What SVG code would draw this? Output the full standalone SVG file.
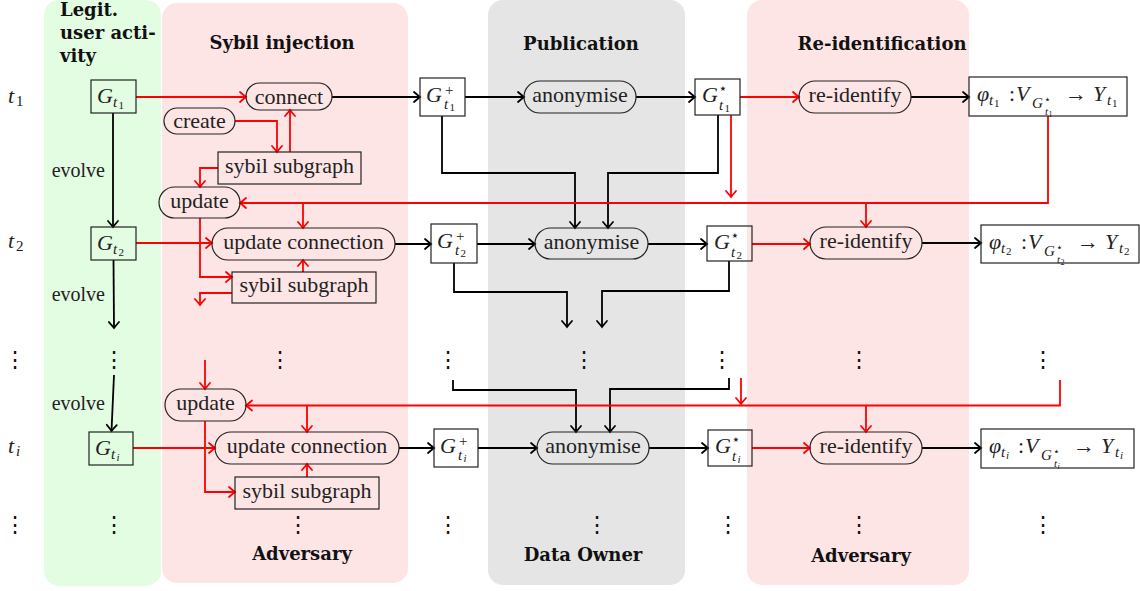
<svg xmlns="http://www.w3.org/2000/svg" width="1140" height="591" viewBox="0 0 1140 591">
<style>
.bgG{fill:#e3fde3}.bgR{fill:#fde5e5}.bgK{fill:#e5e5e5}
.nd{fill:none;stroke:#222;stroke-width:1.2}
.lbl{font-family:"Liberation Serif",serif;font-size:22px;text-anchor:middle;fill:#222}
.ev{font-family:"Liberation Serif",serif;font-size:20px;text-anchor:end;fill:#222}
.m{font-family:"Liberation Serif",serif;font-style:italic;font-size:22px;fill:#222}
.s{font-size:15px}.ss{font-size:11px}.sss{font-size:8px}
.up{font-style:normal}
.st{font-family:"DejaVu Sans",sans-serif;font-style:normal}
.ttl{font-family:"DejaVu Serif",serif;font-weight:bold;font-size:18px;fill:#111}
.c{text-anchor:middle}
.dots{font-family:"DejaVu Serif",serif;font-size:22px;text-anchor:middle;fill:#111}
.k{stroke:#000;stroke-width:1.8;fill:none;marker-end:url(#ak)}
.r{stroke:#f00;stroke-width:1.8;fill:none;marker-end:url(#ar)}
</style>
<defs>
<marker id="ak" markerUnits="userSpaceOnUse" viewBox="-8 -7 10 14" refX="0" refY="0" markerWidth="10" markerHeight="14" orient="auto"><path d="M-6,-5 Q-2,-1.5 0,0 Q-2,1.5 -6,5" fill="none" stroke="#000" stroke-width="1.8" stroke-linecap="round"/></marker>
<marker id="ar" markerUnits="userSpaceOnUse" viewBox="-8 -7 10 14" refX="0" refY="0" markerWidth="10" markerHeight="14" orient="auto"><path d="M-6,-5 Q-2,-1.5 0,0 Q-2,1.5 -6,5" fill="none" stroke="#f00" stroke-width="1.8" stroke-linecap="round"/></marker>
</defs>

<g id="backgrounds">
<rect class="bgG" x="44" y="0" width="117" height="586" rx="15"/>
<rect class="bgR" x="162" y="3" width="246" height="580" rx="15"/>
<rect class="bgK" x="488" y="0" width="197" height="585" rx="15"/>
<rect class="bgR" x="747" y="0" width="222" height="585" rx="15"/>
</g>

<g id="titles">
<text class="ttl" x="60" y="16">Legit.</text>
<text class="ttl" x="60" y="39">user acti-</text>
<text class="ttl" x="60" y="62">vity</text>
<text class="ttl c" x="282" y="49">Sybil injection</text>
<text class="ttl c" x="581" y="50">Publication</text>
<text class="ttl c" x="882" y="50">Re-identification</text>
<text class="ttl c" x="302" y="560">Adversary</text>
<text class="ttl c" x="583" y="561">Data Owner</text>
<text class="ttl c" x="861" y="562">Adversary</text>
</g>

<g id="row-labels">
<text class="m" x="8" y="103">t<tspan class="s up" x="16" y="106">1</tspan></text>
<text class="m" x="8" y="248">t<tspan class="s up" x="16" y="251">2</tspan></text>
<text class="m" x="8" y="453">t<tspan class="s" x="16" y="456">i</tspan></text>
</g>

<g id="ellipses">
<text class="dots" x="15" y="367">⋮</text>
<text class="dots" x="114" y="367">⋮</text>
<text class="dots" x="280" y="367">⋮</text>
<text class="dots" x="448" y="367">⋮</text>
<text class="dots" x="584" y="367">⋮</text>
<text class="dots" x="722" y="367">⋮</text>
<text class="dots" x="859" y="367">⋮</text>
<text class="dots" x="1043" y="367">⋮</text>
<text class="dots" x="15" y="532">⋮</text>
<text class="dots" x="114" y="532">⋮</text>
<text class="dots" x="298" y="532">⋮</text>
<text class="dots" x="448" y="532">⋮</text>
<text class="dots" x="597" y="532">⋮</text>
<text class="dots" x="728" y="532">⋮</text>
<text class="dots" x="859" y="532">⋮</text>
<text class="dots" x="1043" y="532">⋮</text>
</g>

<g id="connectors">
<path class="k" d="M113,113 V227"/>
<path class="k" d="M113.5,260 L114,328"/>
<path class="k" d="M114,375 L111.5,431"/>
<text class="ev" x="105" y="177">evolve</text>
<text class="ev" x="105" y="301">evolve</text>
<text class="ev" x="105" y="410">evolve</text>
<path class="k" d="M332,97 H420"/>
<path class="k" d="M465,97 H524"/>
<path class="k" d="M636,97 H695"/>
<path class="k" d="M911,97 H969"/>
<path class="k" d="M442,116 V173 H575 V228"/>
<path class="k" d="M718,115 V173 H608 V228"/>
<path class="k" d="M395,244 H431"/>
<path class="k" d="M477,244 H535"/>
<path class="k" d="M648,244 H707"/>
<path class="k" d="M922,243 H981"/>
<path class="k" d="M454,263 V292 H567 V327"/>
<path class="k" d="M729,261 V291 H602 V327"/>
<path class="k" d="M453,380 V390 H576 V432"/>
<path class="k" d="M729,378 V389 H610 V432"/>
<path class="k" d="M399,448 H434"/>
<path class="k" d="M478,448 H537"/>
<path class="k" d="M649,448 H708"/>
<path class="k" d="M922,448 H981"/>

<path class="r" d="M136,97 H246"/>
<path class="r" d="M235,121 H277 V152"/>
<path class="r" d="M290,152 V110"/>
<path class="r" d="M218,168 H200 V187"/>
<path class="r" d="M740,97 H799"/>
<path class="r" d="M731,115 V197"/>
<path class="r" d="M1048,116 V203 H240"/>
<path class="r" d="M303,203 V228"/>
<path class="r" d="M866,203 V227"/>
<path class="r" d="M200,218 V277 H232"/>
<path class="r" d="M136,243 H212"/>
<path class="r" d="M232,293 H200 V305"/>
<path class="r" d="M303,272 V260"/>
<path class="r" d="M752,244 H810"/>
<path class="r" d="M205,360 V389"/>
<path class="r" d="M741,378 V404"/>
<path class="r" d="M1060,380 V405.5 H246"/>
<path class="r" d="M307,405.5 V432"/>
<path class="r" d="M866,405.5 V432"/>
<path class="r" d="M205,421 V492 H235"/>
<path class="r" d="M133,448 H215"/>
<path class="r" d="M307,477 V464"/>
<path class="r" d="M752,448 H810"/>
</g>

<!-- Row 1 -->
<g id="G1" transform="translate(91,80)"><rect class="nd" width="45" height="33"/><text class="m" x="6" y="23">G<tspan class="s" x="22" y="27">t</tspan><tspan class="ss up" x="27.5" y="29">1</tspan></text></g>
<g id="connect"><rect class="nd" x="246" y="83" width="86" height="27" rx="13.5"/><text class="lbl" x="289" y="104">connect</text></g>
<g id="create"><rect class="nd" x="164" y="108" width="71" height="26" rx="13"/><text class="lbl" x="199.5" y="128">create</text></g>
<g id="sybil1"><rect class="nd" x="218" y="152" width="143" height="32"/><text class="lbl" x="289.5" y="173">sybil subgraph</text></g>
<g id="Gp1" transform="translate(420,78)"><rect class="nd" width="45" height="38"/><text class="m" x="6" y="24">G<tspan class="s up" x="25" y="17">+</tspan><tspan class="s" x="24" y="31">t</tspan><tspan class="ss up" x="29.5" y="33">1</tspan></text></g>
<g id="anon1"><rect class="nd" x="524" y="81" width="112" height="32" rx="16"/><text class="lbl" x="580" y="102">anonymise</text></g>
<g id="Gs1" transform="translate(695,79)"><rect class="nd" width="45" height="36"/><text class="m" x="7" y="23">G<tspan class="st" font-size="14" x="23.5" y="14">⋆</tspan><tspan class="s" x="24" y="31">t</tspan><tspan class="ss up" x="29.5" y="33">1</tspan></text></g>
<g id="reid1"><rect class="nd" x="799" y="81" width="112" height="32" rx="16"/><text class="lbl" x="855" y="102">re-identify</text></g>
<g id="phi1" transform="translate(969,77)"><rect class="nd" width="158" height="39"/><text class="m" x="8" y="24">φ<tspan class="s" x="20" y="28">t</tspan><tspan class="ss up" x="25" y="30">1</tspan><tspan class="up" x="40" y="24">:</tspan><tspan x="47" y="24">V</tspan><tspan class="s" x="63" y="31">G</tspan><tspan class="st" font-size="11" x="75" y="26">⋆</tspan><tspan class="ss" x="76" y="38">t</tspan><tspan class="sss up" x="79.5" y="40">1</tspan><tspan class="up" x="96" y="24">→</tspan><tspan x="124" y="24">Y</tspan><tspan class="s" x="138" y="28">t</tspan><tspan class="ss up" x="143" y="30">1</tspan></text></g>

<!-- Row 2 -->
<g id="update1"><rect class="nd" x="159" y="187" width="81" height="31" rx="15.5"/><text class="lbl" x="199.5" y="208">update</text></g>
<g id="G2" transform="translate(91,227)"><rect class="nd" width="45" height="33"/><text class="m" x="6" y="23">G<tspan class="s" x="22" y="27">t</tspan><tspan class="ss up" x="27.5" y="29">2</tspan></text></g>
<g id="upconn2"><rect class="nd" x="212" y="228" width="183" height="32" rx="16"/><text class="lbl" x="303.5" y="249">update connection</text></g>
<g id="sybil2"><rect class="nd" x="232" y="272" width="144" height="31"/><text class="lbl" x="304" y="292">sybil subgraph</text></g>
<g id="Gp2" transform="translate(431,224)"><rect class="nd" width="46" height="39"/><text class="m" x="6" y="24">G<tspan class="s up" x="25" y="17">+</tspan><tspan class="s" x="24" y="31">t</tspan><tspan class="ss up" x="29.5" y="33">2</tspan></text></g>
<g id="anon2"><rect class="nd" x="535" y="228" width="113" height="31" rx="15.5"/><text class="lbl" x="591.5" y="248.5">anonymise</text></g>
<g id="Gs2" transform="translate(707,226)"><rect class="nd" width="45" height="35"/><text class="m" x="7" y="23">G<tspan class="st" font-size="14" x="23.5" y="14">⋆</tspan><tspan class="s" x="24" y="31">t</tspan><tspan class="ss up" x="29.5" y="33">2</tspan></text></g>
<g id="reid2"><rect class="nd" x="810" y="227" width="112" height="32" rx="16"/><text class="lbl" x="866" y="248">re-identify</text></g>
<g id="phi2" transform="translate(981,225)"><rect class="nd" width="158" height="38"/><text class="m" x="8" y="24">φ<tspan class="s" x="20" y="28">t</tspan><tspan class="ss up" x="25" y="30">2</tspan><tspan class="up" x="40" y="24">:</tspan><tspan x="47" y="24">V</tspan><tspan class="s" x="63" y="31">G</tspan><tspan class="st" font-size="11" x="75" y="26">⋆</tspan><tspan class="ss" x="76" y="38">t</tspan><tspan class="sss up" x="79.5" y="40">2</tspan><tspan class="up" x="96" y="24">→</tspan><tspan x="124" y="24">Y</tspan><tspan class="s" x="138" y="28">t</tspan><tspan class="ss up" x="143" y="30">2</tspan></text></g>

<!-- Row i -->
<g id="updatei"><rect class="nd" x="165" y="389" width="81" height="32" rx="16"/><text class="lbl" x="205.5" y="410">update</text></g>
<g id="Gi" transform="translate(89,432)"><rect class="nd" width="44" height="33"/><text class="m" x="6" y="23">G<tspan class="s" x="22" y="27">t</tspan><tspan class="ss" x="27.5" y="29">i</tspan></text></g>
<g id="upconni"><rect class="nd" x="215" y="432" width="184" height="32" rx="16"/><text class="lbl" x="307" y="453">update connection</text></g>
<g id="sybili"><rect class="nd" x="235" y="477" width="144" height="32"/><text class="lbl" x="307" y="498">sybil subgraph</text></g>
<g id="Gpi" transform="translate(434,429)"><rect class="nd" width="44" height="38"/><text class="m" x="6" y="24">G<tspan class="s up" x="25" y="17">+</tspan><tspan class="s" x="24" y="31">t</tspan><tspan class="ss" x="29.5" y="33">i</tspan></text></g>
<g id="anoni"><rect class="nd" x="537" y="432" width="112" height="32" rx="16"/><text class="lbl" x="593" y="453">anonymise</text></g>
<g id="Gsi" transform="translate(708,430)"><rect class="nd" width="44" height="36"/><text class="m" x="7" y="23">G<tspan class="st" font-size="14" x="23.5" y="14">⋆</tspan><tspan class="s" x="24" y="31">t</tspan><tspan class="ss" x="29.5" y="33">i</tspan></text></g>
<g id="reidi"><rect class="nd" x="810" y="432" width="112" height="32" rx="16"/><text class="lbl" x="866" y="453">re-identify</text></g>
<g id="phii" transform="translate(981,429)"><rect class="nd" width="153" height="39"/><text class="m" x="8" y="24">φ<tspan class="s" x="20" y="28">t</tspan><tspan class="ss" x="25" y="30">i</tspan><tspan class="up" x="37" y="24">:</tspan><tspan x="44" y="24">V</tspan><tspan class="s" x="60" y="31">G</tspan><tspan class="st" font-size="11" x="72" y="26">⋆</tspan><tspan class="ss" x="73" y="38">t</tspan><tspan class="sss" x="76.5" y="40">i</tspan><tspan class="up" x="92" y="24">→</tspan><tspan x="120" y="24">Y</tspan><tspan class="s" x="134" y="28">t</tspan><tspan class="ss" x="139" y="30">i</tspan></text></g>
</svg>
